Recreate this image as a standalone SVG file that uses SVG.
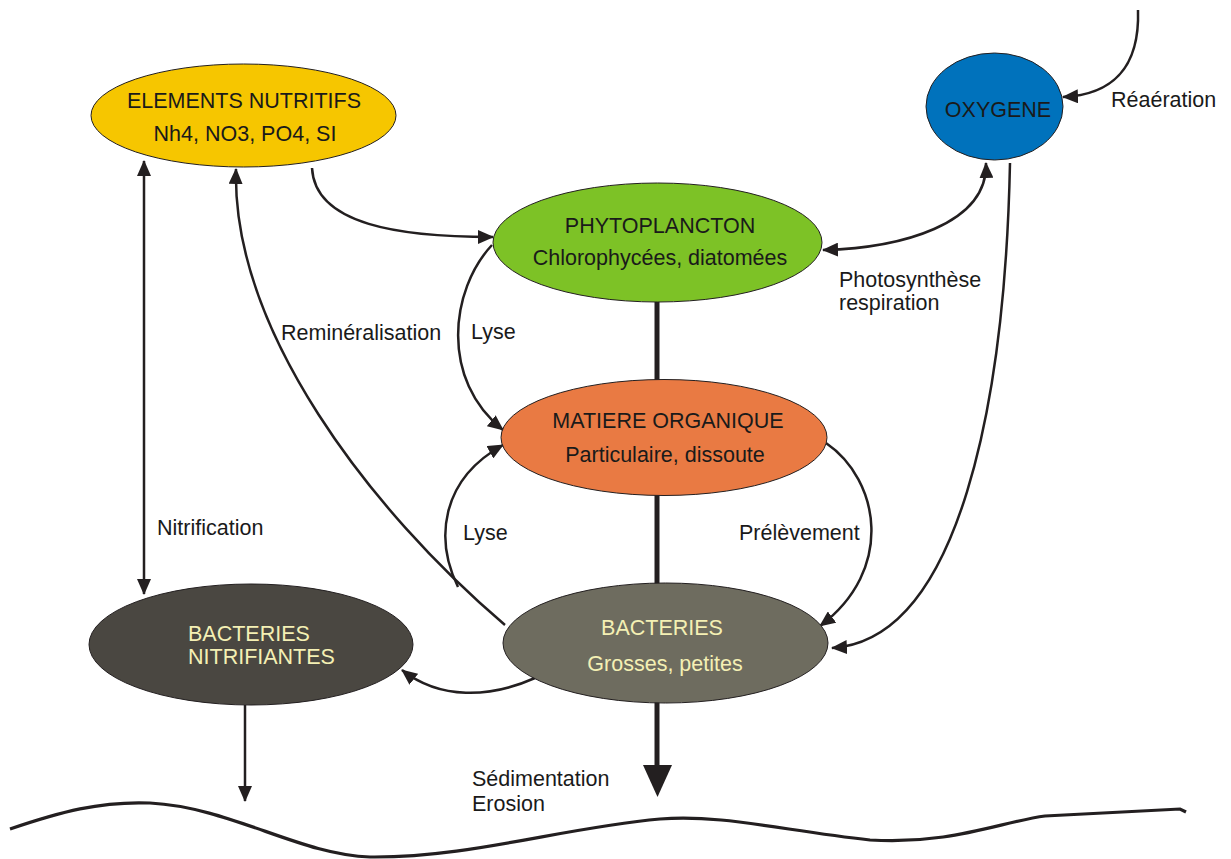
<svg xmlns="http://www.w3.org/2000/svg" width="1231" height="859" viewBox="0 0 1231 859">
<style>
text{font-family:"Liberation Sans",Arial,sans-serif;font-size:21.5px;fill:#1a1a1a}
.c{text-anchor:middle}
.lt{fill:#f4f0b4}
.node{stroke:#231f20;stroke-width:1}
.con{fill:none;stroke:#231f20;stroke-width:2.5}
.thick{fill:none;stroke:#231f20;stroke-width:5}
</style>
<defs>
<marker id="ah" viewBox="0 0 16 14" refX="15" refY="7" markerWidth="16" markerHeight="14" markerUnits="userSpaceOnUse" orient="auto-start-reverse">
<path d="M0,0 L16,7 L0,14 Z" fill="#231f20"/>
</marker>
</defs>
<rect width="1231" height="859" fill="#ffffff"/>
<g id="connectors">
<line class="con" x1="144" y1="161" x2="144" y2="594" marker-start="url(#ah)" marker-end="url(#ah)"/>
<path class="con" d="M505 625 C370 510,232 330,236 169" marker-end="url(#ah)"/>
<path class="con" d="M312 168 C315 225,400 237,493 237" marker-end="url(#ah)"/>
<path class="con" d="M492 245 C450 290,440 380,503 430" marker-end="url(#ah)"/>
<path class="con" d="M458 587 C435 540,440 480,503 445" marker-end="url(#ah)"/>
<path class="con" d="M535 678 C490 698,440 700,402 670" marker-end="url(#ah)"/>
<path class="con" d="M826 443 C880 480,895 570,820 626" marker-end="url(#ah)"/>
<path class="con" d="M1010 163 C1005 400,960 640,832 648" marker-end="url(#ah)"/>
<path class="con" d="M823 250 C900 248,988 225,986 163" marker-start="url(#ah)" marker-end="url(#ah)"/>
<path class="con" d="M1138 10 C1140 70,1110 95,1063 97" marker-end="url(#ah)"/>
<line class="con" x1="245" y1="705" x2="245" y2="801" marker-end="url(#ah)"/>
<line class="thick" x1="657" y1="302" x2="657" y2="381"/>
<line class="thick" x1="657" y1="495" x2="657" y2="584"/>
<line class="thick" x1="657" y1="702" x2="657" y2="770"/>
<polygon points="643,765 672,765 657.5,797" fill="#231f20"/>
<path fill="none" stroke="#231f20" stroke-width="3.2" d="M10 829 C60 812,100 801,150 803 C230 807,300 855,370 857 C470 858,560 828,660 819 C720 814,780 830,870 840 C950 845,1000 822,1045 816 L1180 809 L1186 812"/>
</g>
<g id="elements">
<ellipse class="node" cx="243.5" cy="115.5" rx="152.5" ry="51.5" fill="#f6c600"/>
<text class="c" x="244" y="108">ELEMENTS NUTRITIFS</text>
<text class="c" x="245" y="141">Nh4, NO3, PO4, SI</text>
</g>
<g id="oxygene">
<ellipse class="node" cx="994.5" cy="106.5" rx="68.5" ry="53.5" fill="#0072bc"/>
<text class="c" x="998" y="117">OXYGENE</text>
</g>
<g id="phytoplancton">
<ellipse class="node" cx="657.5" cy="242.5" rx="164.5" ry="59.5" fill="#7dc226"/>
<text class="c" x="660" y="233">PHYTOPLANCTON</text>
<text class="c" x="660" y="265">Chlorophycées, diatomées</text>
</g>
<g id="matiere">
<ellipse class="node" cx="664" cy="437.5" rx="163" ry="58" fill="#e97a43"/>
<text class="c" x="668" y="428">MATIERE ORGANIQUE</text>
<text class="c" x="665" y="462">Particulaire, dissoute</text>
</g>
<g id="nitrifiantes">
<ellipse class="node" cx="251" cy="644.5" rx="162" ry="60.5" fill="#4a4741"/>
<text class="lt" x="188" y="641">BACTERIES</text>
<text class="lt" x="188" y="664">NITRIFIANTES</text>
</g>
<g id="bacteries">
<ellipse class="node" cx="665.5" cy="643" rx="162.5" ry="60" fill="#6e6c5f"/>
<text class="c lt" x="662" y="635">BACTERIES</text>
<text class="c lt" x="665" y="671">Grosses, petites</text>
</g>
<g id="labels">
<text x="157" y="535">Nitrification</text>
<text x="281" y="340">Reminéralisation</text>
<text x="471" y="339">Lyse</text>
<text x="463" y="540">Lyse</text>
<text x="739" y="540">Prélèvement</text>
<text x="839" y="287">Photosynthèse</text>
<text x="839" y="310">respiration</text>
<text x="1111" y="107">Réaération</text>
<text x="472" y="786">Sédimentation</text>
<text x="472" y="811">Erosion</text>
</g>
</svg>
